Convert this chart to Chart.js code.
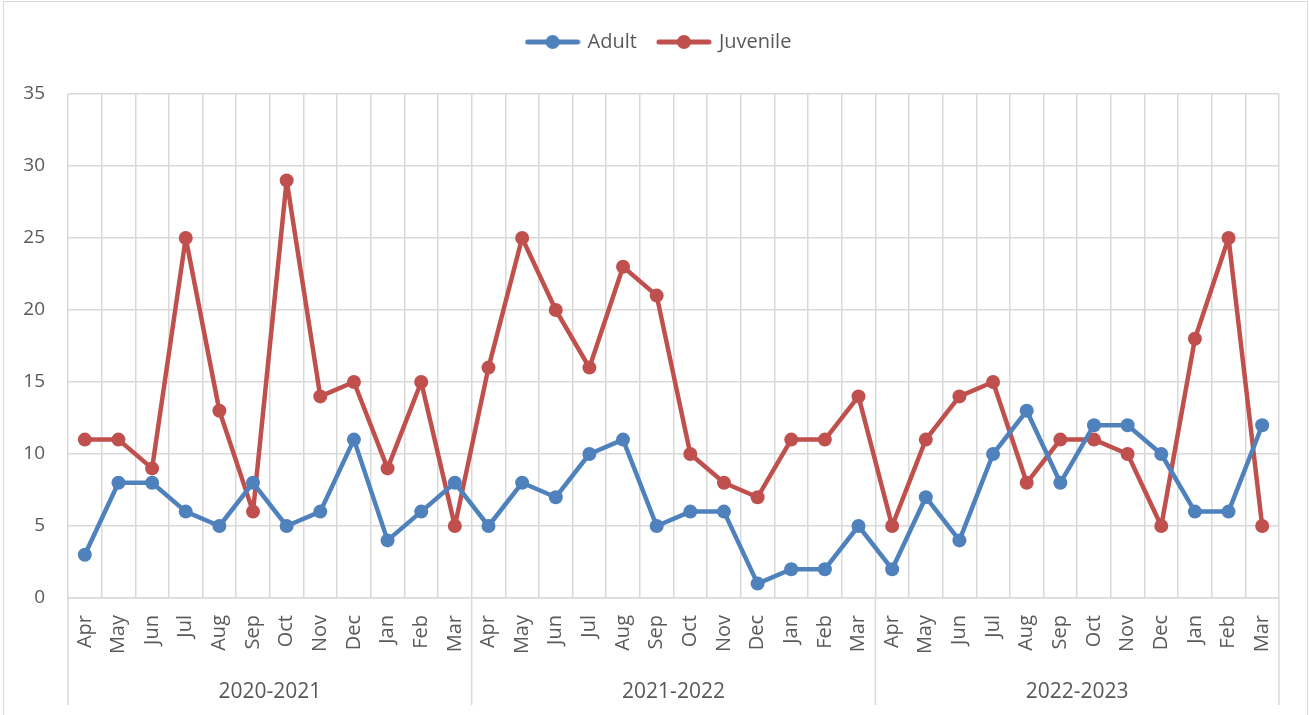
<!DOCTYPE html>
<html lang="en">
<head>
  <meta charset="UTF-8" />
  <title>Adult and Juvenile Cases by Month</title>
  <script src="https://cdn.jsdelivr.net/npm/chart.js"></script>
  <style>
    html, body {
      margin: 0;
      padding: 0;
      background: #fff;
      overflow: hidden;
    }
    .chart-box {
      position: absolute;
      left: 3px;
      top: 1px;
      width: 1305px;
      height: 730px;
      border: 1.5px solid #d9d9d9;
      box-sizing: border-box;
    }
    .chart-container {
      position: absolute;
      left: 0;
      top: 0;
      width: 1309px;
      height: 715px;
    }
  </style>
</head>
<body>
  <div class="chart-box"></div>
  <div class="chart-container">
    <canvas id="lineChart" width="1309" height="715"></canvas>
  </div>

  <script>
    const months = ['Apr', 'May', 'Jun', 'Jul', 'Aug', 'Sep', 'Oct', 'Nov', 'Dec', 'Jan', 'Feb', 'Mar'];
    const years = ['2020-2021', '2021-2022', '2022-2023'];
    const yTicks = [0, 5, 10, 15, 20, 25, 30, 35];

    const adult = [
      3, 8, 8, 6, 5, 8, 5, 6, 11, 4, 6, 8,
      5, 8, 7, 10, 11, 5, 6, 6, 1, 2, 2, 5,
      2, 7, 4, 10, 13, 8, 12, 12, 10, 6, 6, 12
    ];
    const juvenile = [
      11, 11, 9, 25, 13, 6, 29, 14, 15, 9, 15, 5,
      16, 25, 20, 16, 23, 21, 10, 8, 7, 11, 11, 14,
      5, 11, 14, 15, 8, 11, 11, 10, 5, 18, 25, 5
    ];

    const labels = years.flatMap(() => months);

    const BLUE = '#4f81bd';
    const RED = '#c0504d';
    const GRID = '#d9d9d9';
    const TEXT = '#595959';
    const FONT = "'Open Sans', 'Noto Sans', sans-serif";

    // legend marker: a short line with a dot in the middle
    function lineMarker(color) {
      const c = document.createElement('canvas');
      c.width = 56;
      c.height = 16;
      const g = c.getContext('2d');
      g.strokeStyle = color;
      g.lineWidth = 5;
      g.lineCap = 'round';
      g.beginPath();
      g.moveTo(3, 8);
      g.lineTo(53, 8);
      g.stroke();
      g.fillStyle = color;
      g.beginPath();
      g.arc(28, 8, 7, 0, Math.PI * 2);
      g.fill();
      return c;
    }

    // extra room between the legend and the plot
    const legendGap = {
      id: 'legendGap',
      beforeInit(chart) {
        const fit = chart.legend.fit;
        chart.legend.fit = function () {
          fit.call(this);
          this.height += 32;
        };
      }
    };

    // vertical separators between the year groups under the month axis
    const groupLines = {
      id: 'groupLines',
      afterDraw(chart) {
        const x = chart.scales.x;
        const x2 = chart.scales.x2;
        const ctx = chart.ctx;
        const n = months.length;
        const xs = [chart.chartArea.left];
        for (let g = 1; g < years.length; g++) {
          xs.push((x.getPixelForTick(g * n - 1) + x.getPixelForTick(g * n)) / 2);
        }
        xs.push(chart.chartArea.right);
        ctx.save();
        ctx.strokeStyle = GRID;
        ctx.lineWidth = 1.5;
        xs.forEach(px => {
          ctx.beginPath();
          ctx.moveTo(px, chart.chartArea.bottom);
          ctx.lineTo(px, x2.bottom - 10);
          ctx.stroke();
        });
        ctx.restore();
      }
    };

    const ctx = document.getElementById('lineChart').getContext('2d');
    new Chart(ctx, {
      type: 'line',
      data: {
        labels: labels,
        datasets: [
          {
            label: 'Adult',
            data: adult,
            borderColor: BLUE,
            backgroundColor: BLUE,
            borderWidth: 4.5,
            borderJoinStyle: 'round',
            borderCapStyle: 'round',
            pointRadius: 7,
            pointHoverRadius: 7,
            pointBorderWidth: 0,
            pointStyle: 'circle',
            tension: 0
          },
          {
            label: 'Juvenile',
            data: juvenile,
            borderColor: RED,
            backgroundColor: RED,
            borderWidth: 4.5,
            borderJoinStyle: 'round',
            borderCapStyle: 'round',
            pointRadius: 7,
            pointHoverRadius: 7,
            pointBorderWidth: 0,
            pointStyle: 'circle',
            tension: 0
          }
        ]
      },
      options: {
        responsive: false,
        animation: false,
        layout: {
          padding: { left: 10, right: 0, top: 10, bottom: 0 }
        },
        plugins: {
          tooltip: { enabled: false },
          legend: {
            position: 'top',
            labels: {
              usePointStyle: true,
              pointStyleWidth: 50,
              padding: 22,
              color: TEXT,
              font: { family: FONT, size: 20 },
              generateLabels(chart) {
                return chart.data.datasets.map((ds, i) => ({
                  text: ds.label,
                  fillStyle: ds.borderColor,
                  strokeStyle: ds.borderColor,
                  lineWidth: 0,
                  pointStyle: lineMarker(ds.borderColor),
                  fontColor: TEXT,
                  datasetIndex: i
                }));
              }
            }
          }
        },
        scales: {
          x: {
            type: 'category',
            position: 'bottom',
            offset: true,
            grid: {
              offset: true,
              color: GRID,
              lineWidth: 1.5,
              drawTicks: false
            },
            border: { color: GRID, width: 1.5 },
            ticks: {
              color: TEXT,
              font: { family: FONT, size: 20 },
              minRotation: 90,
              maxRotation: 90,
              autoSkip: false,
              padding: 17
            },
            afterFit(scale) {
              scale.height = 75;
              scale.paddingLeft = 0;
              scale.paddingRight = 0;
            }
          },
          x2: {
            type: 'category',
            position: 'bottom',
            labels: years,
            offset: true,
            grid: { display: false, drawTicks: false },
            border: { display: false },
            ticks: {
              color: TEXT,
              font: { family: FONT, size: 21 },
              maxRotation: 0,
              padding: 6
            },
            afterFit(scale) {
              scale.height = 42;
              scale.paddingLeft = 0;
              scale.paddingRight = 0;
            }
          },
          y: {
            min: 0,
            max: 35,
            afterBuildTicks(scale) {
              scale.ticks = yTicks.map(v => ({ value: v }));
            },
            grid: {
              color: GRID,
              lineWidth: 1.5,
              drawTicks: false
            },
            border: { display: false },
            ticks: {
              color: TEXT,
              font: { family: FONT, size: 19 },
              padding: 23
            },
            afterFit(scale) { scale.width = 58; }
          },
          // empty right-hand axis that only holds the right margin
          yRight: {
            position: 'right',
            min: 0,
            max: 35,
            grid: { drawOnChartArea: false, drawTicks: false },
            border: { display: false },
            ticks: { display: false },
            afterFit(scale) { scale.width = 30; }
          }
        }
      },
      plugins: [legendGap, groupLines]
    });
  </script>
</body>
</html>
